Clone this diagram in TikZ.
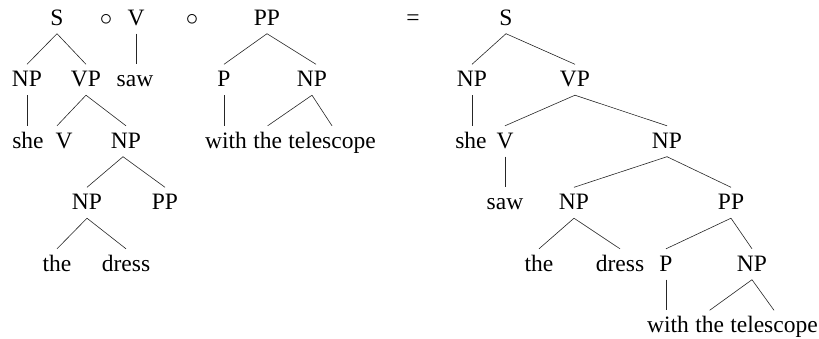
\documentclass[tikz,border=0pt]{standalone}
\usepackage{fontspec}
\setmainfont{Liberation Serif}
\usetikzlibrary{calc}
\begin{document}
\begin{tikzpicture}[x=1pt,y=-1pt,
  lab/.style={font=\fontsize{23.5}{28}\selectfont, inner xsep=0pt, inner ysep=3.5pt,
              text height=18.5pt, text depth=5pt, anchor=base},
  wrd/.style={lab, anchor=base west},
  edge/.style={line width=0.6pt, draw=black!85}]
\useasboundingbox (0,0) rectangle (819,338);
% ---------- left operands ----------
\node[lab] (lS)  at (57,25)  {S};
\node[lab] (lc1) at (106,25) {$\circ$};
\node[lab] (lV)  at (136,25) {V};
\node[lab] (lc2) at (192,25) {$\circ$};
\node[lab] (lPP) at (267,25) {PP};
\node[lab] (eq)  at (413,25) {=};
\node[lab] (lNPa) at (27,86.5)  {NP};
\node[lab] (lVP)  at (86,86.5)  {VP};
\node[lab] (lsaw) at (135,86.5) {saw};
\node[lab] (lP)   at (224,86.5) {P};
\node[lab] (lNPb) at (312,86.5) {NP};
\node[lab] (lshe) at (28,148)   {she};
\node[lab] (lVb)  at (64,148)   {V};
\node[lab] (lNPc) at (126,148)  {NP};
\node[wrd] (lwith) at (205,148) {with};
\node[wrd] (lthe)  at ($(lwith.base east)+(5.9,0)$) {the};
\node[wrd] (ltel)  at ($(lthe.base east)+(5.9,0)$) {telescope};
\node[lab] (lNPd) at (87,209.5)  {NP};
\node[lab] (lPPb) at (165,209.5) {PP};
\node[lab] (lthed) at (57,271)   {the};
\node[lab] (ldress) at (126,271) {dress};
\draw[edge] (lS.south) -- (lNPa.north);
\draw[edge] (lS.south) -- (lVP.north);
\draw[edge] (lV.south) -- (lV.south |- lsaw.north);
\draw[edge] (lPP.south) -- (lP.north);
\draw[edge] (lPP.south) -- ($(lNPb.north)+(4,0)$);
\draw[edge] (lNPa.south) -- (lNPa.south |- lshe.north);
\draw[edge] (lVP.south) -- ($(lVb.north)+(-7,0)$);
\draw[edge] (lVP.south) -- (lNPc.north);
\draw[edge] (lP.south) -- (lP.south |- lwith.north);
\draw[edge] (lNPb.south) -- (lthe.north);
\draw[edge] (lNPb.south) -- (ltel.north);
\draw[edge] ($(lNPc.south)+(-3,0)$) -- (lNPd.north);
\draw[edge] ($(lNPc.south)+(-3,0)$) -- (lPPb.north);
\draw[edge] (lNPd.south) -- (lthed.north);
\draw[edge] (lNPd.south) -- (ldress.north);
% ---------- result ----------
\node[lab] (rS)   at (506,25)   {S};
\node[lab] (rNPa) at (472,86.5) {NP};
\node[lab] (rVP)  at (575,86.5) {VP};
\node[lab] (rshe) at (471,148)  {she};
\node[lab] (rV)   at (505,148)  {V};
\node[lab] (rNPb) at (667,148)  {NP};
\node[lab] (rsaw) at (505,209.5) {saw};
\node[lab] (rNPc) at (574,209.5) {NP};
\node[lab] (rPP)  at (731,209.5) {PP};
\node[lab] (rthe) at (539,271)  {the};
\node[lab] (rdress) at (620,271) {dress};
\node[lab] (rP)   at (666,271)  {P};
\node[lab] (rNPd) at (752,271)  {NP};
\node[wrd] (rwith) at (647,332.5) {with};
\node[wrd] (rthe2) at ($(rwith.base east)+(5.9,0)$) {the};
\node[wrd] (rtel)  at ($(rthe2.base east)+(5.9,0)$) {telescope};
\draw[edge] (rS.south) -- (rNPa.north);
\draw[edge] (rS.south) -- (rVP.north);
\draw[edge] (rNPa.south) -- (rNPa.south |- rshe.north);
\draw[edge] (rVP.south) -- (rV.north);
\draw[edge] (rVP.south) -- (rNPb.north);
\draw[edge] (rV.south) -- (rV.south |- rsaw.north);
\draw[edge] (rNPb.south) -- (rNPc.north);
\draw[edge] (rNPb.south) -- (rPP.north);
\draw[edge] (rNPc.south) -- (rthe.north);
\draw[edge] (rNPc.south) -- (rdress.north);
\draw[edge] (rPP.south) -- (rP.north);
\draw[edge] (rPP.south) -- (rNPd.north);
\draw[edge] (rP.south) -- (rP.south |- rwith.north);
\draw[edge] (rNPd.south) -- (rthe2.north);
\draw[edge] (rNPd.south) -- (rtel.north);
\end{tikzpicture}
\end{document}
